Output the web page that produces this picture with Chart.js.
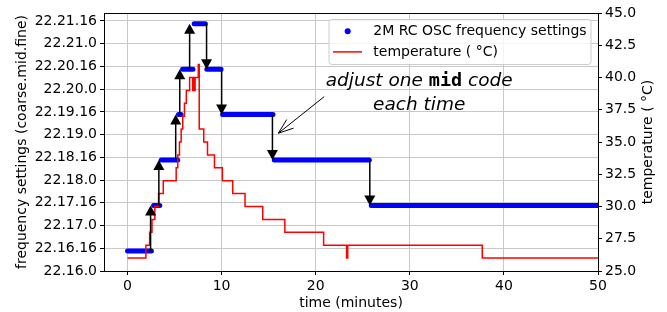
<!DOCTYPE html>
<html>
<head>
<meta charset="utf-8">
<script src="https://cdn.jsdelivr.net/npm/chart.js@4.4.0/dist/chart.umd.min.js"></script>
<style>
html, body { margin: 0; padding: 0; background: #fff; }
</style>
</head>
<body>
<canvas id="Chart_1" width="667" height="312"></canvas>
<script>
// axis ticks
var xTicks = [0, 10, 20, 30, 40, 50];
var codeLabels = ['22.16.0', '22.16.16', '22.17.0', '22.17.16', '22.18.0', '22.18.16',
                  '22.19.0', '22.19.16', '22.20.0', '22.20.16', '22.21.0', '22.21.16'];
var tempTicks = [25, 27.5, 30, 32.5, 35, 37.5, 40, 42.5, 45];

// frequency setting runs: start / end time (minutes) and code index
var setStart = [0, 2.77, 3.58, 5.42, 5.85, 7.08, 8.43, 10.1, 15.6, 25.9];
var setEnd   = [2.54, 3.43, 5.34, 5.69, 6.96, 8.27, 9.94, 15.46, 25.7, 50];
var setCode  = [1, 3, 5, 7, 9, 11, 9, 7, 5, 3];

// temperature: time a reading starts (minutes) and the reading (C)
var tempTime = [0, 1.95, 2.35, 2.6, 2.9, 3.3, 3.8, 5.17, 5.34, 5.52, 5.7, 5.87, 6.05, 6.25,
                6.6, 6.93, 7.0, 7.1, 7.18, 7.52, 7.62, 8.1, 8.5, 9.24, 10.08, 11.18, 12.49,
                14.37, 16.72, 20.84, 23.28, 23.4, 37.7, 50];
var tempVal  = [26, 27, 28, 29, 30, 31, 32, 33, 34, 35, 36, 37, 38, 39,
                40, 39, 40, 39, 40, 41, 36, 35, 34, 33, 32, 31, 30,
                29, 28, 27, 26, 27, 26, 26];

// arrows showing each code change
var arrowTime = [2.45, 3.33, 5.12, 5.55, 6.6, 8.4, 10.0, 15.4, 25.75];
var arrowFrom = [1, 3, 5, 7, 9, 11, 9, 7, 5];
var arrowTo   = [3, 5, 7, 9, 11, 9, 7, 5, 3];

// tick labels sit a bit above the plotted codes
var codeTickShift = 0.12;

Chart.defaults.font.family = "'DejaVu Sans'";
Chart.defaults.font.size = 14;
Chart.defaults.color = '#000';

var setData = [];
for (var i = 0; i < setStart.length; i++) {
    setData.push({x: setStart[i], y: setCode[i]});
    setData.push({x: setEnd[i], y: setCode[i]});
    setData.push({x: setEnd[i], y: null});
}
var tempData = tempTime.map(function (t, i) { return {x: t, y: tempVal[i]}; });

var extras = {
    id: 'extras',
    afterDatasetsDraw: function (chart) {
        var ctx = chart.ctx, a = chart.chartArea;
        var xs = chart.scales.x, ys = chart.scales.y;
        ctx.save();
        // step arrows
        ctx.strokeStyle = '#000';
        ctx.fillStyle = '#000';
        ctx.lineWidth = 1.5;
        for (var i = 0; i < arrowTime.length; i++) {
            var x = xs.getPixelForValue(arrowTime[i]);
            var y0 = ys.getPixelForValue(arrowFrom[i]);
            var y1 = ys.getPixelForValue(arrowTo[i]);
            var d = y1 < y0 ? -1 : 1;
            ctx.beginPath();
            ctx.moveTo(x, y0);
            ctx.lineTo(x, y1 - d * 9);
            ctx.stroke();
            ctx.beginPath();
            ctx.moveTo(x, y1);
            ctx.lineTo(x - 5.5, y1 - d * 10);
            ctx.lineTo(x + 5.5, y1 - d * 10);
            ctx.closePath();
            ctx.fill();
        }

        // note text
        var cx = xs.getPixelForValue(31.0);
        var by = ys.getPixelForValue(8.26);
        var parts = [['adjust one ', 'italic 18.5px "DejaVu Sans"'],
                     ['mid', 'bold 18.5px "DejaVu Sans Mono"'],
                     [' code', 'italic 18.5px "DejaVu Sans"']];
        var w = 0;
        parts.forEach(function (p) { ctx.font = p[1]; w += ctx.measureText(p[0]).width; });
        var px = cx - w / 2;
        ctx.textBaseline = 'alphabetic';
        ctx.textAlign = 'left';
        parts.forEach(function (p) {
            ctx.font = p[1];
            ctx.fillText(p[0], px, by);
            px += ctx.measureText(p[0]).width;
        });
        ctx.font = 'italic 18.5px "DejaVu Sans"';
        ctx.textAlign = 'center';
        ctx.fillText('each time', cx, by + 24);

        // pointer from the note
        var p0x = xs.getPixelForValue(20.9), p0y = ys.getPixelForValue(7.79);
        var p1x = xs.getPixelForValue(16.03), p1y = ys.getPixelForValue(6.18);
        ctx.lineWidth = 1;
        ctx.beginPath();
        ctx.moveTo(p0x, p0y);
        ctx.lineTo(p1x, p1y);
        var ang = Math.atan2(p0y - p1y, p0x - p1x);
        var hl = 16, ha = 20 * Math.PI / 180;
        ctx.moveTo(p1x + hl * Math.cos(ang - ha), p1y + hl * Math.sin(ang - ha));
        ctx.lineTo(p1x, p1y);
        ctx.lineTo(p1x + hl * Math.cos(ang + ha), p1y + hl * Math.sin(ang + ha));
        ctx.stroke();

        // top edge of the frame
        ctx.beginPath();
        ctx.moveTo(a.left, a.top + 0.5);
        ctx.lineTo(a.right, a.top + 0.5);
        ctx.stroke();

        // legend
        var lx = a.right - 269, ly = a.top + 6.5, lw = 262, lh = 45;
        ctx.beginPath();
        ctx.roundRect(lx, ly, lw, lh, 3);
        ctx.fillStyle = 'rgba(255,255,255,0.8)';
        ctx.fill();
        ctx.strokeStyle = '#cccccc';
        ctx.stroke();
        ctx.fillStyle = 'blue';
        ctx.beginPath();
        ctx.arc(lx + 18.7, ly + 11.7, 3, 0, Math.PI * 2);
        ctx.fill();
        ctx.strokeStyle = 'red';
        ctx.lineWidth = 1.5;
        ctx.beginPath();
        ctx.moveTo(lx + 4, ly + 32.4);
        ctx.lineTo(lx + 33, ly + 32.4);
        ctx.stroke();
        ctx.fillStyle = '#000';
        ctx.font = '14px "DejaVu Sans"';
        ctx.textAlign = 'left';
        ctx.textBaseline = 'middle';
        ctx.fillText(chart.data.datasets[1].label, lx + 44.3, ly + 11.7);
        ctx.fillText(chart.data.datasets[0].label, lx + 44.3, ly + 32.4);

        // right axis title, reading upwards
        ctx.translate(648, (a.top + a.bottom) / 2);
        ctx.rotate(-Math.PI / 2);
        ctx.textAlign = 'center';
        ctx.fillText('temperature ( °C)', 0, 0);
        ctx.restore();
    }
};

var ctx = document.getElementById('Chart_1');
var chart = new Chart(ctx, {
    type: 'line',
    data: {
        datasets: [{
            label: 'temperature ( °C)',
            data: tempData,
            yAxisID: 'y2',
            borderColor: 'red',
            borderWidth: 1.5,
            pointRadius: 0,
            stepped: true
        }, {
            label: '2M RC OSC frequency settings',
            data: setData,
            yAxisID: 'y',
            borderColor: 'blue',
            borderWidth: 5,
            borderCapStyle: 'round',
            pointRadius: 0,
            spanGaps: false
        }]
    },
    options: {
        responsive: false,
        animation: false,
        layout: {padding: {top: 13, left: 0, right: 0, bottom: 0}},
        plugins: {legend: {display: false}, tooltip: {enabled: false}},
        scales: {
            x: {
                type: 'linear',
                position: 'bottom',
                min: -2.5,
                max: 50,
                afterBuildTicks: function (s) { s.ticks = xTicks.map(function (v) { return {value: v}; }); },
                afterFit: function (s) { s.height = 41; },
                ticks: {padding: 3, maxRotation: 0, autoSkip: false, callback: function (v) { return String(v); }},
                grid: {color: '#c8c8c8', tickColor: '#000', tickLength: 4},
                border: {color: '#000', width: 1},
                title: {display: true, text: 'time (minutes)', padding: {top: 0, bottom: 0.6}}
            },
            y: {
                type: 'linear',
                position: 'left',
                min: codeTickShift,
                max: 11.47,
                afterBuildTicks: function (s) {
                    s.ticks = codeLabels.map(function (l, i) { return {value: i + codeTickShift}; });
                },
                afterFit: function (s) { s.width = 104; },
                ticks: {padding: 3, autoSkip: false, callback: function (v, i) { return codeLabels[i]; }},
                grid: {color: '#c8c8c8', tickColor: '#000', tickLength: 4},
                border: {color: '#000', width: 1},
                title: {display: true, text: 'frequency settings (coarse.mid.fine)', padding: {top: 13.6, bottom: 0}}
            },
            y2: {
                type: 'linear',
                position: 'right',
                min: 25,
                max: 45,
                afterBuildTicks: function (s) { s.ticks = tempTicks.map(function (v) { return {value: v}; }); },
                afterFit: function (s) { s.width = 69; },
                ticks: {padding: 3, autoSkip: false, callback: function (v) { return v.toFixed(1); }},
                grid: {drawOnChartArea: false, tickColor: '#000', tickLength: 4},
                border: {color: '#000', width: 1}
            }
        }
    },
    plugins: [extras]
});
</script>
</body>
</html>
